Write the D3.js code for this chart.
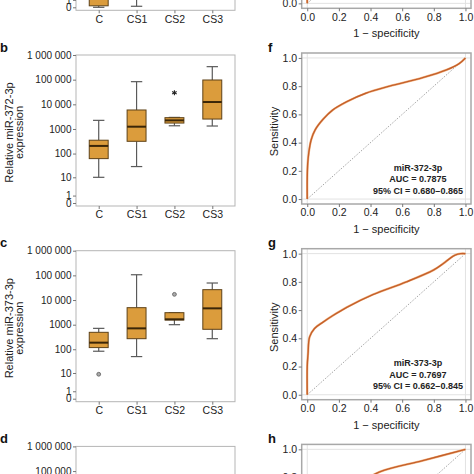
<!DOCTYPE html>
<html><head><meta charset="utf-8">
<script src="https://cdn.jsdelivr.net/npm/d3@7"></script>
<style>
html,body{margin:0;padding:0;background:#fff;}
svg{display:block;font-family:"Liberation Sans",Arial,Helvetica,sans-serif;}
</style></head>
<body>
<svg id="chart" width="474" height="474"></svg>
<script>
// ---------- DATA ----------
const categories = ["C", "CS1", "CS2", "CS3"];
const yTickValues = [0, 1, 10, 100, 1000, 10000, 100000, 1000000];
const yTickLabels = ["0", "1", "10", "100", "1000", "10 000", "100 000", "1 000 000"];
const rocTickValues = [0, 0.2, 0.4, 0.6, 0.8, 1.0];
const rocTickLabels = ["0.0", "0.2", "0.4", "0.6", "0.8", "1.0"];

// panel a (only bottom visible)
const aWhiskerLow  = [0, 0.1, 100, 500];
const aQ1          = [0.15, 50, 600, 3000];
const aMedian      = [20, 800, 2500, 20000];
const aQ3          = [300, 6000, 9000, 90000];
const aWhiskerHigh = [3000, 60000, 40000, 300000];
const aOutliers    = [[], [], [], []];

// panel b : miR-372-3p
const bWhiskerLow  = [10, 29, 1350, 1320];
const bQ1          = [62, 316, 1740, 2530];
const bMedian      = [205, 1240, 2240, 12400];
const bQ3          = [350, 5900, 2880, 97000];
const bWhiskerHigh = [2240, 83000, 2950, 337000];
const bOutliers    = [[], [], [29500], []];

// panel c : miR-373-3p
const cWhiskerLow  = [83, 50, 1000, 270];
const cQ1          = [117, 270, 1550, 650];
const cMedian      = [186, 710, 1650, 4600];
const cQ3          = [490, 4900, 3070, 26300];
const cWhiskerHigh = [710, 106000, 3070, 49000];
const cOutliers    = [[8.8], [], [17000], []];

// panel d (only top frame visible)
const dWhiskerLow  = [3, 10, 200, 300];
const dQ1          = [30, 100, 700, 1500];
const dMedian      = [120, 500, 1500, 5000];
const dQ3          = [400, 3000, 4000, 20000];
const dWhiskerHigh = [1500, 30000, 9000, 50000];
const dOutliers    = [[], [], [], []];

// ROC curves
const eFpr = [0, 0, 0.005, 0.02, 0.1, 0.3, 0.6, 1];
const eTpr = [0, 0.2, 0.3, 0.42, 0.6, 0.78, 0.9, 1];
const fFpr = [0, 0, 0.003, 0.01, 0.025, 0.05, 0.1, 0.16, 0.25, 0.37, 0.52, 0.73, 0.88, 0.96, 1];
const fTpr = [0, 0.15, 0.25, 0.33, 0.42, 0.49, 0.565, 0.63, 0.69, 0.75, 0.80, 0.86, 0.915, 0.96, 1];
const gFpr = [0, 0, 0.005, 0.015, 0.046, 0.1, 0.16, 0.25, 0.415, 0.627, 0.80, 0.86, 0.9, 0.935, 0.97, 1];
const gTpr = [0, 0.2, 0.29, 0.41, 0.47, 0.515, 0.56, 0.62, 0.71, 0.80, 0.885, 0.93, 0.965, 0.99, 1.0, 1];
const hFpr = [0, 0, 0.01, 0.05, 0.15, 0.3, 0.458, 0.73, 1];
const hTpr = [0, 0.2, 0.35, 0.5, 0.62, 0.74, 0.84, 0.92, 1];

const boxPanels = [
  {letter: "a", lo: aWhiskerLow, q1: aQ1, med: aMedian, q3: aQ3, hi: aWhiskerHigh, out: aOutliers, outShape: "circle", title: "miR-371a-3p"},
  {letter: "b", lo: bWhiskerLow, q1: bQ1, med: bMedian, q3: bQ3, hi: bWhiskerHigh, out: bOutliers, outShape: "star", title: "miR-372-3p"},
  {letter: "c", lo: cWhiskerLow, q1: cQ1, med: cMedian, q3: cQ3, hi: cWhiskerHigh, out: cOutliers, outShape: "circle", title: "miR-373-3p"},
  {letter: "d", lo: dWhiskerLow, q1: dQ1, med: dMedian, q3: dQ3, hi: dWhiskerHigh, out: dOutliers, outShape: "circle", title: "miR-367-3p"}
];
const rocPanels = [
  {letter: "e", fpr: eFpr, tpr: eTpr, label: null},
  {letter: "f", fpr: fFpr, tpr: fTpr, label: ["miR-372-3p", "AUC = 0.7875", "95% CI = 0.680\u20130.865"]},
  {letter: "g", fpr: gFpr, tpr: gTpr, label: ["miR-373-3p", "AUC = 0.7697", "95% CI = 0.662\u20130.845"]},
  {letter: "h", fpr: hFpr, tpr: hTpr, label: null}
];

// ---------- LAYOUT ----------
const period = 195.7;
const boxL = 76, boxR = 235, boxTop = 55, boxZero = 203, boxBot = 206;
const rocL = 301.7, rocR = 471, rocT = 53, rocB = 204;
const fillCol = "#DB9C3C", edgeCol = "#5e4218", medCol = "#3a2608", whiskCol = "#5a5a5a";
const rocCol = "#c45f2a";

const svg = d3.select("#chart");

const x = d3.scalePoint().domain(categories).range([boxL, boxR]).padding(0.6);
const y = d3.scaleSymlog().constant(1).domain([0, 1e6]).range([boxZero, boxTop]);
const step = x.step();
const bw = step * 0.5, cw = step * 0.3;

boxPanels.forEach((p, k) => {
  const g = svg.append("g").attr("transform", `translate(0,${(k - 1) * period})`);
  g.append("rect").attr("x", boxL).attr("y", boxTop).attr("width", boxR - boxL).attr("height", boxBot - boxTop)
    .attr("fill", "none").attr("stroke", "#b5b5b5").attr("stroke-width", 1);

  const ya = g.append("g").attr("transform", `translate(${boxL},0)`)
    .call(d3.axisLeft(y).tickValues(yTickValues).tickFormat((d, i) => yTickLabels[i]).tickSize(3).tickPadding(1.5));
  ya.select(".domain").remove();
  ya.selectAll("line").attr("stroke", "#777");
  ya.selectAll("text").attr("font-size", 10).attr("fill", "#222").attr("font-family", "Liberation Sans, Arial");

  const xa = g.append("g").attr("transform", `translate(0,${boxBot})`)
    .call(d3.axisBottom(x).tickSize(3).tickPadding(2));
  xa.select(".domain").remove();
  xa.selectAll("line").attr("stroke", "#777");
  xa.selectAll("text").attr("font-size", 10.5).attr("fill", "#222").attr("font-family", "Liberation Sans, Arial");

  categories.forEach((c, i) => {
    const cx = x(c);
    g.append("line").attr("x1", cx).attr("x2", cx).attr("y1", y(p.q3[i])).attr("y2", y(p.hi[i]))
      .attr("stroke", whiskCol).attr("stroke-width", 1.2);
    g.append("line").attr("x1", cx).attr("x2", cx).attr("y1", y(p.q1[i])).attr("y2", y(p.lo[i]))
      .attr("stroke", whiskCol).attr("stroke-width", 1.2);
    g.append("line").attr("x1", cx - cw / 2).attr("x2", cx + cw / 2).attr("y1", y(p.hi[i])).attr("y2", y(p.hi[i]))
      .attr("stroke", whiskCol).attr("stroke-width", 1.2);
    g.append("line").attr("x1", cx - cw / 2).attr("x2", cx + cw / 2).attr("y1", y(p.lo[i])).attr("y2", y(p.lo[i]))
      .attr("stroke", whiskCol).attr("stroke-width", 1.2);
    g.append("rect").attr("x", cx - bw / 2).attr("width", bw)
      .attr("y", y(p.q3[i])).attr("height", y(p.q1[i]) - y(p.q3[i]))
      .attr("fill", fillCol).attr("stroke", edgeCol).attr("stroke-width", 1);
    g.append("line").attr("x1", cx - bw / 2).attr("x2", cx + bw / 2).attr("y1", y(p.med[i])).attr("y2", y(p.med[i]))
      .attr("stroke", medCol).attr("stroke-width", 2);
    p.out[i].forEach(v => {
      if (p.outShape === "star") {
        const r = 2.6, cy = y(v);
        [0, 60, 120].forEach(a => {
          const rad = a * Math.PI / 180;
          g.append("line").attr("x1", cx - r * Math.sin(rad)).attr("y1", cy - r * Math.cos(rad))
            .attr("x2", cx + r * Math.sin(rad)).attr("y2", cy + r * Math.cos(rad))
            .attr("stroke", "#222").attr("stroke-width", 1.1);
        });
      } else {
        g.append("circle").attr("cx", cx).attr("cy", y(v)).attr("r", 1.9)
          .attr("fill", "#aaa").attr("stroke", "#666").attr("stroke-width", 0.9);
      }
    });
  });

  const tg = g.append("g").attr("transform", `translate(0,132.5)`);
  tg.append("text").attr("transform", "translate(9,0) rotate(-90)").attr("text-anchor", "middle")
    .attr("dominant-baseline", "central").attr("font-size", 11).attr("fill", "#222").text(`Relative ${p.title}`);
  tg.append("text").attr("transform", "translate(18.5,0) rotate(-90)").attr("text-anchor", "middle")
    .attr("dominant-baseline", "central").attr("font-size", 11).attr("fill", "#222").text("expression");

  g.append("text").attr("x", 0).attr("y", 51.5).attr("font-size", 13).attr("font-weight", "bold")
    .attr("fill", "#111").text(p.letter);
});

const rx = d3.scaleLinear().domain([-0.035, 1.035]).range([rocL, rocR]);
const ry = d3.scaleLinear().domain([-0.035, 1.035]).range([rocB, rocT]);
const line = d3.line().x(d => rx(d[0])).y(d => ry(d[1])).curve(d3.curveCatmullRom.alpha(0.5));

rocPanels.forEach((p, k) => {
  const g = svg.append("g").attr("transform", `translate(0,${(k - 1) * period})`);
  [0, 1].forEach(v => {
    g.append("line").attr("x1", rocL).attr("x2", rocR).attr("y1", ry(v)).attr("y2", ry(v))
      .attr("stroke", "#e2e2e2").attr("stroke-width", 1);
    g.append("line").attr("y1", rocT).attr("y2", rocB).attr("x1", rx(v)).attr("x2", rx(v))
      .attr("stroke", "#e2e2e2").attr("stroke-width", 1);
  });
  g.append("line").attr("x1", rx(0)).attr("y1", ry(0)).attr("x2", rx(1)).attr("y2", ry(1))
    .attr("stroke", "#9a9a9a").attr("stroke-width", 0.9).attr("stroke-dasharray", "1.5,1.5");

  const pts = p.fpr.map((v, i) => [v, p.tpr[i]]);
  g.append("path").attr("d", line(pts)).attr("fill", "none").attr("stroke", "#f4bb8c").attr("stroke-width", 2.3);
  g.append("path").attr("d", line(pts)).attr("fill", "none").attr("stroke", rocCol).attr("stroke-width", 1.4);

  g.append("rect").attr("x", rocL).attr("y", rocT).attr("width", rocR - rocL).attr("height", rocB - rocT)
    .attr("fill", "none").attr("stroke", "#a8a8a8").attr("stroke-width", 1.5);

  const ya = g.append("g").attr("transform", `translate(${rocL},0)`)
    .call(d3.axisLeft(ry).tickValues(rocTickValues).tickFormat((d, i) => rocTickLabels[i]).tickSize(3).tickPadding(1.5));
  ya.select(".domain").remove();
  ya.selectAll("line").attr("stroke", "#777");
  ya.selectAll("text").attr("font-size", 10.5).attr("fill", "#222").attr("font-family", "Liberation Sans, Arial");

  const xa = g.append("g").attr("transform", `translate(0,${rocB})`)
    .call(d3.axisBottom(rx).tickValues(rocTickValues).tickFormat((d, i) => rocTickLabels[i]).tickSize(3).tickPadding(2));
  xa.select(".domain").remove();
  xa.selectAll("line").attr("stroke", "#777");
  xa.selectAll("text").attr("font-size", 10.5).attr("fill", "#222").attr("font-family", "Liberation Sans, Arial");

  g.append("text").attr("x", (rx(0) + rx(1)) / 2).attr("y", 233).attr("text-anchor", "middle")
    .attr("font-size", 11).attr("fill", "#222").text("1 \u2212 specificity");
  g.append("text").attr("transform", `translate(273.5,131.5) rotate(-90)`).attr("text-anchor", "middle")
    .attr("dominant-baseline", "central").attr("font-size", 11).attr("fill", "#222").text("Sensitivity");

  if (p.label) {
    const ly = [170.5, 182, 193.5];
    p.label.forEach((t, i) => {
      g.append("text").attr("x", 418).attr("y", ly[i]).attr("text-anchor", "middle")
        .attr("font-size", 9).attr("font-weight", "bold").attr("fill", "#222").text(t);
    });
  }
  g.append("text").attr("x", 268).attr("y", 51.5).attr("font-size", 13).attr("font-weight", "bold")
    .attr("fill", "#111").text(p.letter);
});
</script>
</body></html>
